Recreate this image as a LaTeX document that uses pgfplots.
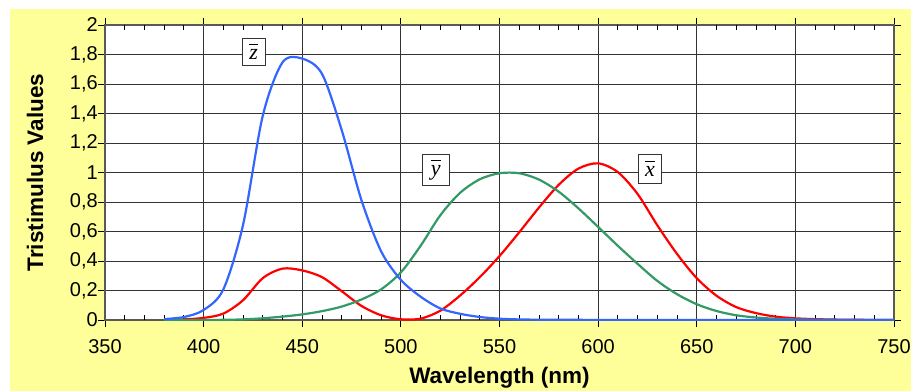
\documentclass[border=0pt]{standalone}
\usepackage{fontspec}
\setmainfont{Liberation Sans}
\newfontfamily\lserif{Liberation Serif}
\usepackage{pgfplots}
\usepackage{pgfplotstable}
\pgfplotsset{compat=1.18}
\definecolor{bgyellow}{RGB}{255,255,153}
\definecolor{zblue}{RGB}{51,102,255}
\definecolor{xred}{RGB}{255,0,0}
\definecolor{ygreen}{RGB}{51,153,102}
\pgfplotstableread{
lambda x y z
380 0.001368 0.000039 0.006450
390 0.004243 0.000120 0.020050
400 0.014310 0.000396 0.067850
410 0.043510 0.001210 0.207400
420 0.134380 0.004000 0.645600
430 0.283900 0.011600 1.385600
440 0.348280 0.023000 1.747060
450 0.336200 0.038000 1.772110
460 0.290800 0.060000 1.669200
470 0.195360 0.090980 1.287640
480 0.095640 0.139020 0.812950
490 0.032010 0.208020 0.465180
500 0.004900 0.323000 0.272000
510 0.009300 0.503000 0.158200
520 0.063270 0.710000 0.078250
530 0.165500 0.862000 0.042160
540 0.290400 0.954000 0.020300
550 0.433450 0.994950 0.008750
560 0.594500 0.995000 0.003900
570 0.762100 0.952000 0.002100
580 0.916300 0.870000 0.001650
590 1.026300 0.757000 0.001100
600 1.062200 0.631000 0.000800
610 1.002600 0.503000 0.000340
620 0.854450 0.381000 0.000190
630 0.642400 0.265000 0.000050
640 0.447900 0.175000 0.000020
650 0.283500 0.107000 0.000000
660 0.164900 0.061000 0.000000
670 0.087400 0.032000 0.000000
680 0.046770 0.017000 0.000000
690 0.022700 0.008210 0.000000
700 0.011359 0.004102 0.000000
710 0.005790 0.002091 0.000000
720 0.002899 0.001047 0.000000
730 0.001440 0.000520 0.000000
740 0.000690 0.000249 0.000000
750 0.000332 0.000120 0.000000
}\cmf
\newcommand{\barletter}[1]{\setbox0\hbox{\lserif\itshape #1}\vbox{\hrule width \wd0 height 0.9bp\vskip 4bp\box0}}
\begin{document}
\begin{tikzpicture}
\useasboundingbox (-105bp,-71bp) rectangle (806bp,320bp);
\fill[bgyellow] (-95bp,-71bp) rectangle (806bp,311bp);
\begin{axis}[
  at={(0,0)}, anchor=south west,
  scale only axis, width=789bp, height=295bp,
  xmin=350, xmax=750, ymin=0, ymax=2,
  axis background/.style={fill=white},
  xtick={350,400,...,750},
  ytick={0,0.2,0.4,0.6,0.8,1,1.2,1.4,1.6,1.8,2},
  /pgf/number format/assume math mode=true,
  /pgf/number format/use comma,
  /pgf/number format/fixed,
  /pgf/number format/precision=1,
  tick align=outside,
  major tick length=7bp,
  tick style={black, line width=0.8bp},
  extra x ticks={360,370,380,390,410,420,430,440,460,470,480,490,510,520,530,540,560,570,580,590,610,620,630,640,660,670,680,690,710,720,730,740},
  extra x tick labels={},
  extra x tick style={grid=none, tick align=inside, major tick length=5bp},
  grid=major,
  major grid style={black!80, line width=0.9bp},
  axis line style={gray!70!black, line width=1.6bp},
  tick label style={font=\fontsize{20bp}{24bp}\selectfont},
  xticklabel style={anchor=center, inner sep=0pt, yshift=-20bp},
  yticklabel style={anchor=east, inner sep=0pt, xshift=0bp},
  label style={font=\bfseries\fontsize{22.5bp}{27bp}\selectfont},
  xlabel={Wavelength (nm)},
  ylabel={Tristimulus Values},
  xlabel style={at={(axis description cs:0.5,-0.1966)}, anchor=center},
  ylabel style={at={(axis description cs:-0.0887,0.5)}, anchor=center},
  every axis plot/.append style={line width=2.2bp, smooth, tension=0.5, mark=none},
]
\addplot[xred] table[x=lambda, y=x] {\cmf};
\addplot[ygreen] table[x=lambda, y=y] {\cmf};
\addplot[zblue] table[x=lambda, y=z] {\cmf};
\node[draw=black!80, fill=white, line width=0.8bp, inner sep=0pt, minimum width=23bp, minimum height=27bp, font=\fontsize{22bp}{26bp}\selectfont] at (axis cs:425.4,1.817) {\barletter{z}};
\node[draw=black!80, fill=white, line width=0.8bp, inner sep=0pt, minimum width=27bp, minimum height=31bp, font=\fontsize{22bp}{26bp}\selectfont] at (axis cs:517.7,1.015) {\barletter{y}};
\node[draw=black!80, fill=white, line width=0.8bp, inner sep=0pt, minimum width=23bp, minimum height=29bp, font=\fontsize{22bp}{26bp}\selectfont] at (axis cs:626.3,1.025) {\barletter{x}};
\end{axis}
\end{tikzpicture}
\end{document}
